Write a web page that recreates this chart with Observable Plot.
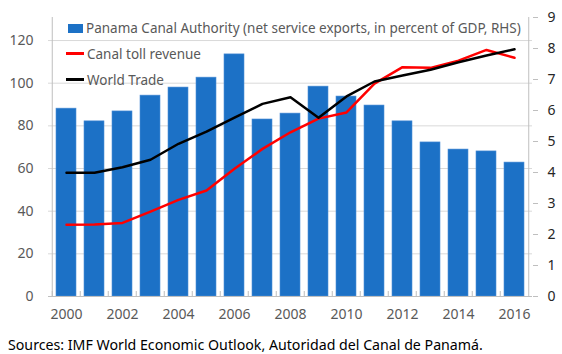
<!DOCTYPE html>
<html><head><meta charset="utf-8">
<script src="https://cdn.jsdelivr.net/npm/d3@7"></script>
<script src="https://cdn.jsdelivr.net/npm/@observablehq/plot@0.6"></script>
<style>
body{margin:0;background:#fff;font-family:"Noto Sans",sans-serif;}
#wrap{position:relative;width:562px;height:354px;overflow:hidden;}
#chart{position:absolute;left:0;top:0;}
.leg{position:absolute;left:0;top:0;}
.item{position:absolute;left:66px;height:20px;display:flex;align-items:center;font-size:13.5px;color:#595959;white-space:nowrap;}
.sw{display:inline-block;margin-right:3px;}
#caption{position:absolute;left:8px;top:335px;font-size:14.2px;color:#000;white-space:nowrap;line-height:20px;}
</style></head><body><div id="wrap"><div id="chart"></div><div class="leg" id="legend"></div><div id="caption"></div></div>
<script>
const years = [2000,2001,2002,2003,2004,2005,2006,2007,2008,2009,2010,2011,2012,2013,2014,2015,2016];
// Panama Canal Authority net service exports, % of GDP (RHS)
const serviceExports = [6.06,5.65,5.97,6.48,6.74,7.06,7.81,5.71,5.90,6.77,6.45,6.16,5.65,4.97,4.74,4.68,4.32];
// Canal toll revenue (LHS index)
const tollRevenue = [33.6,33.8,34.5,39.8,45.3,49.7,59.9,69.2,77.0,83.4,86.3,99.8,107.5,107.2,110.6,115.6,111.9];
// World trade (LHS index)
const worldTrade = [58.0,58.0,60.6,64.1,71.6,77.3,83.9,90.3,93.4,83.8,93.8,100.8,103.6,106.3,109.8,113.0,115.9];
const leftTicks = [0,20,40,60,80,100,120];
const rightTicks = [0,1,2,3,4,5,6,7,8,9];
const xTickYears = [2000,2002,2004,2006,2008,2010,2012,2014,2016];
const legendLabels = ["Panama Canal Authority (net service exports, in percent of GDP, RHS)","Canal toll revenue","World Trade"];
const captionText = "Sources: IMF World Economic Outlook, Autoridad del Canal de Panamá.";

const W=562, H=330, mT=17, mB=34, mL=48, mR=30;
const yMax = 130.8, rMax = 9, k = yMax/rMax;
const step = (W-mL-mR)/years.length;
const pxPerUnit = (H-mT-mB)/yMax;
const rows = years.map((y,i)=>({year:y, svc:serviceExports[i]*k, toll:tollRevenue[i], trade:worldTrade[i]}));
const axisGray = "#bfbfbf";

const chart = Plot.plot({
  width:W, height:H, marginTop:mT, marginBottom:mB, marginLeft:mL, marginRight:mR,
  style:{fontFamily:"'Noto Sans',sans-serif", fontSize:"14px", color:"#595959", background:"white"},
  x:{type:"band", domain:years, paddingInner:0.28, paddingOuter:0.14, axis:null},
  y:{domain:[0,yMax], axis:null},
  marks:[
    Plot.gridY(leftTicks.filter(d=>d>0), {stroke:"#d9d9d9", strokeOpacity:1}),
    Plot.barY(rows, {x:"year", y:"svc", fill:"#1c71c6", stroke:"#4f8fd6", strokeWidth:0.6}),
    Plot.ruleX(years, {x:d=>d, dx:-step/2, y1:0, y2:5/pxPerUnit, stroke:axisGray}),
    Plot.ruleX([years[0]], {x:d=>d, dx:-step/2, stroke:axisGray}),
    Plot.ruleX([years[years.length-1]], {x:d=>d, dx:step/2, stroke:axisGray}),
    Plot.ruleY([0], {stroke:axisGray}),
    Plot.lineY(rows, {x:"year", y:"toll", stroke:"#ff0000", strokeWidth:2.5}),
    Plot.lineY(rows, {x:"year", y:"trade", stroke:"#000000", strokeWidth:2.5}),
    Plot.axisY(leftTicks, {anchor:"left", tickSize:0, tickPadding:15, label:null, fill:"#595959"}),
    Plot.axisY(rightTicks.map(d=>d*k), {anchor:"right", tickSize:5, tickPadding:10, stroke:axisGray, fill:"#262626", label:null, tickFormat:d=>String(Math.round(d/k))}),
    Plot.axisX(xTickYears, {anchor:"bottom", tickSize:0, tickPadding:13, label:null, fill:"#595959", tickFormat:d=>String(d)})
  ]
});
document.getElementById("chart").appendChild(chart);

const legend = document.getElementById("legend");
const swatches = [
  '<span class="sw" style="width:15px;height:9px;background:#1c71c6;margin-left:2px;margin-right:3px"></span>',
  '<span class="sw" style="width:18px;height:3px;background:#ff0000"></span>',
  '<span class="sw" style="width:18px;height:3px;background:#000000"></span>'
];
const tops = [18, 43.5, 69.5];
legendLabels.forEach((t,i)=>{
  const d = document.createElement("div");
  d.className = "item";
  d.style.top = tops[i] + "px";
  d.innerHTML = swatches[i] + "<span>" + t + "</span>";
  legend.appendChild(d);
});
document.getElementById("caption").textContent = captionText;
</script>
</body></html>
